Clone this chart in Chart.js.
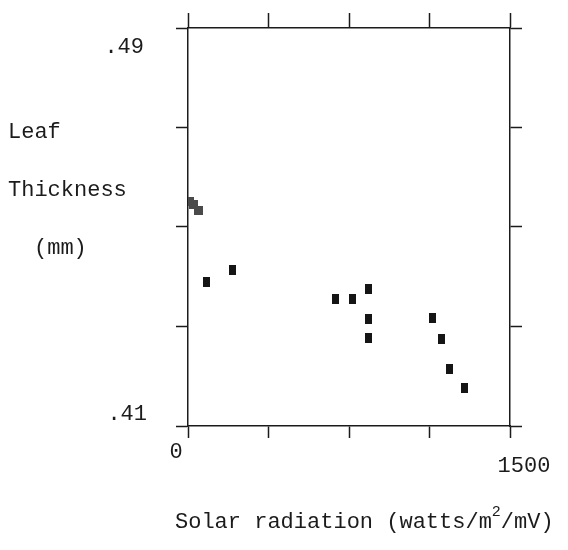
<!DOCTYPE html>
<html>
<head>
<meta charset="utf-8">
<script src="https://cdn.jsdelivr.net/npm/chart.js@4.4.1/dist/chart.umd.min.js"></script>
<style>
  html, body { margin: 0; padding: 0; background: #fff; }
  #wrap { width: 568px; height: 550px; }
</style>
</head>
<body>
<div id="wrap"><canvas id="myChart" width="568" height="550"></canvas></div>
<script>
// solar radiation (watts/m2/mV) vs leaf thickness (mm)
const radiation = [9, 25, 47, 84, 205, 685, 764, 839, 839, 839, 1137, 1183, 1216, 1290];
const thickness = [0.4552, 0.4545, 0.4533, 0.4389, 0.4414, 0.4355, 0.4355, 0.4376, 0.4316, 0.4276, 0.4318, 0.4275, 0.4215, 0.4176];
const xTicks = [0, 375, 750, 1125, 1500];
const yTicks = [0.41, 0.43, 0.45, 0.47, 0.49];

const ink = '#1b1b1b';
const mono = '"Liberation Mono", "DejaVu Sans Mono", monospace';

// little dark blocks like the plotter marks
function makeMark(w, h, color) {
    const c = document.createElement('canvas');
    c.width = w; c.height = h;
    const g = c.getContext('2d');
    g.fillStyle = color;
    g.fillRect(0, 0, w, h);
    return c;
}
const darkMark = makeMark(7, 10, '#151515');
const greyMark = makeMark(9, 9, '#4a4a4a');
const markStyles = radiation.map((r, i) => i < 3 ? greyMark : darkMark);

const points = radiation.map((r, i) => ({ x: r, y: thickness[i] }));

// text labels drawn beside the frame
const labelPlugin = {
    id: 'labels',
    afterDraw(chart) {
        const ctx = chart.ctx;
        const x = chart.scales.x, y = chart.scales.y;
        ctx.save();
        ctx.fillStyle = ink;
        ctx.font = '22px ' + mono;
        ctx.textBaseline = 'middle';
        ctx.textAlign = 'right';
        ctx.fillText('.49', 144, y.getPixelForValue(0.49) + 19);
        ctx.fillText('.41', 147, y.getPixelForValue(0.41) - 12);

        ctx.textAlign = 'center';
        ctx.fillText('0', x.getPixelForValue(0) - 12, 452);
        ctx.fillText('1500', x.getPixelForValue(1500) + 14, 466);

        ctx.textAlign = 'left';
        ctx.fillText('Leaf', 8, 132);
        ctx.fillText('Thickness', 8, 190);
        ctx.fillText('(mm)', 34, 248);

        // x title with a raised 2
        let tx = 175;
        const ty = 522;
        const parts = [['Solar radiation (watts/m', 0, 22], ['2', -10, 15], ['/mV)', 0, 22]];
        parts.forEach(p => {
            ctx.font = p[2] + 'px ' + mono;
            ctx.fillText(p[0], tx, ty + p[1]);
            tx += ctx.measureText(p[0]).width;
        });
        ctx.restore();
    }
};

function axisOpts(position, min, max, ticks, tickLen) {
    return {
        type: 'linear',
        position: position,
        min: min,
        max: max,
        afterBuildTicks: axis => { axis.ticks = ticks.map(v => ({ value: v })); },
        ticks: { display: false },
        grid: {
            drawOnChartArea: false,
            drawTicks: true,
            tickLength: tickLen,
            tickWidth: 1.5,
            tickColor: ink
        },
        border: { display: true, color: ink, width: 1.5 }
    };
}

const ctx = document.getElementById('myChart').getContext('2d');
const myChart = new Chart(ctx, {
    type: 'scatter',
    data: {
        datasets: [{
            label: 'Leaf thickness',
            data: points,
            pointStyle: markStyles,
            pointRadius: 5,
            borderWidth: 0
        }]
    },
    options: {
        responsive: false,
        animation: false,
        layout: { padding: { left: 176, right: 46, top: 13, bottom: 112 } },
        plugins: {
            legend: { display: false },
            tooltip: { enabled: false }
        },
        scales: {
            x: axisOpts('bottom', 0, 1500, xTicks, 12),
            x2: axisOpts('top', 0, 1500, xTicks, 15),
            y: axisOpts('left', 0.41, 0.49, yTicks, 12),
            y2: axisOpts('right', 0.41, 0.49, yTicks, 12)
        }
    },
    plugins: [labelPlugin]
});
</script>
</body>
</html>
